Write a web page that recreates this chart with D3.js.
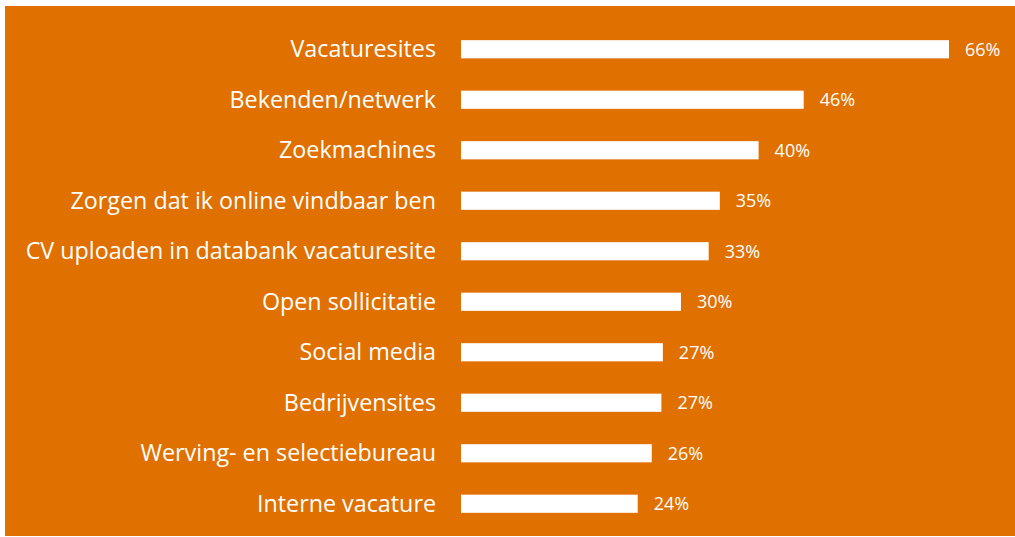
<!DOCTYPE html>
<html lang="nl">
<head>
<meta charset="UTF-8">
<title>Zoekkanalen</title>
<script src="https://d3js.org/d3.v7.min.js"></script>
<style>
  html, body { margin: 0; padding: 0; background: #fff; }
  svg { display: block; }
</style>
</head>
<body>
<div id="chart"></div>
<script>
// data (bar lengths slightly off the rounded labels)
var categories = [
  "Vacaturesites",
  "Bekenden/netwerk",
  "Zoekmachines",
  "Zorgen dat ik online vindbaar ben",
  "CV uploaden in databank vacaturesite",
  "Open sollicitatie",
  "Social media",
  "Bedrijvensites",
  "Werving- en selectiebureau",
  "Interne vacature"
];
var values = [66, 46.35, 40.25, 35.0, 33.5, 29.75, 27.3, 27.1, 25.8, 23.9];
var valueLabels = ["66%", "46%", "40%", "35%", "33%", "30%", "27%", "27%", "26%", "24%"];

var width = 1015, height = 537;
var orange = "#e07000";

var svg = d3.select("#chart").append("svg")
    .attr("width", width)
    .attr("height", height);

// orange panel
svg.append("rect")
    .attr("x", 5).attr("y", 6)
    .attr("width", width - 5).attr("height", 530)
    .attr("fill", orange);

var x = d3.scaleLinear().domain([0, 66]).range([461, 949]);
var y = d3.scaleBand().domain(categories).range([24, 529]).paddingInner(0.64).paddingOuter(0.32);

var rows = svg.selectAll("g.row").data(categories).enter()
    .append("g").attr("class", "row");

rows.append("rect")
    .attr("x", x(0))
    .attr("y", function(d) { return y(d); })
    .attr("width", function(d, i) { return x(values[i]) - x(0); })
    .attr("height", y.bandwidth())
    .attr("fill", "#fff");

rows.append("text")
    .attr("x", 436)
    .attr("y", function(d) { return y(d) + y.bandwidth() / 2; })
    .attr("dy", "0.35em")
    .attr("text-anchor", "end")
    .attr("fill", "#fff")
    .style("font-family", "'Open Sans', sans-serif")
    .style("font-size", "23.3px")
    .text(function(d) { return d; });

rows.append("text")
    .attr("x", function(d, i) { return x(values[i]) + 16; })
    .attr("y", function(d) { return y(d) + y.bandwidth() / 2; })
    .attr("dy", "0.35em")
    .attr("fill", "#fff")
    .style("font-family", "'Open Sans', sans-serif")
    .style("font-size", "18px")
    .text(function(d, i) { return valueLabels[i]; });
</script>
</body>
</html>
